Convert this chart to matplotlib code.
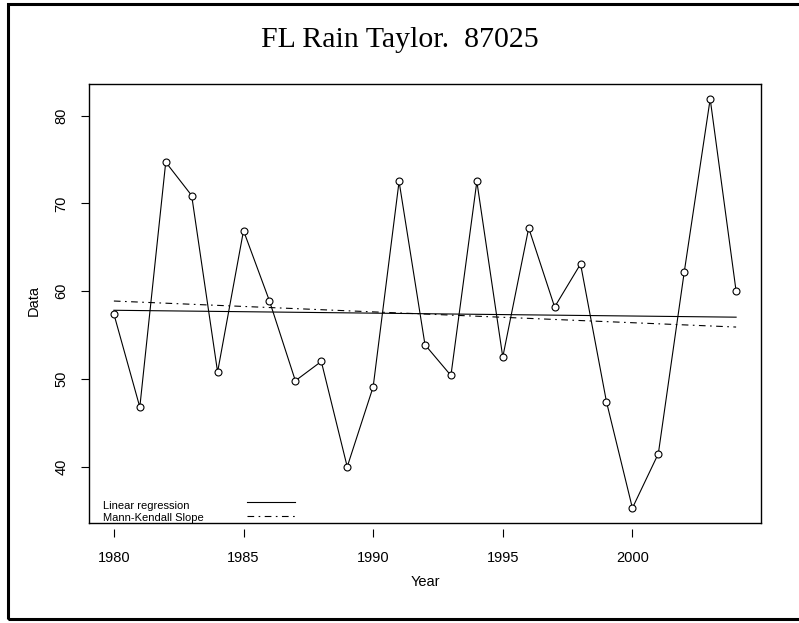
import numpy as np
import matplotlib
matplotlib.use("Agg")
import matplotlib.pyplot as plt
from matplotlib.patches import Rectangle
from matplotlib.lines import Line2D

# ---- data ----
years = list(range(1980, 2005))
values = [57.4, 46.8, 74.7, 70.9, 50.8, 66.9, 58.9, 49.8, 52.0, 40.0,
          49.1, 72.5, 53.9, 50.4, 72.5, 52.5, 67.2, 58.2, 63.1, 47.4,
          35.3, 41.5, 62.2, 81.9, 60.0]
x_ticks = [1980, 1985, 1990, 1995, 2000]
y_ticks = [40, 50, 60, 70, 80]
title = "FL Rain Taylor.  87025"
legend_labels = ["Linear regression", "Mann-Kendall Slope"]

x = np.array(years, dtype=float)
y = np.array(values, dtype=float)

# linear regression
b1, b0 = np.polyfit(x, y, 1)
lr = b0 + b1 * x

# Sen (Mann-Kendall) slope
slopes = []
for i in range(len(x)):
    for j in range(i + 1, len(x)):
        slopes.append((y[j] - y[i]) / (x[j] - x[i]))
sen = np.median(slopes)
sen_int = np.median(y) - sen * np.median(x)
mk = sen_int + sen * x

W, H = 799, 623
fig = plt.figure(figsize=(W / 100, H / 100), dpi=100)
plt.rcParams['font.family'] = ['Liberation Sans', 'DejaVu Sans']

L, R, T, B = 89, 761, 84, 523
ax = fig.add_axes([L / W, 1 - B / H, (R - L) / W, (B - T) / H])

lw = 0.8
ax.plot(x, y, color='black', lw=lw, marker='o', ms=5, mfc='white',
        mec='black', mew=0.8, zorder=3)
ax.plot(x, lr, color='black', lw=lw, zorder=2)
dd = (0, (6, 4, 1.5, 4))
ax.plot(x, mk, color='black', lw=lw, ls=dd, zorder=2)

ax.set_xlim(1979.04, 2004.96)
ax.set_ylim(33.6, 83.6)
ax.set_xticks(x_ticks)
ax.set_yticks(y_ticks)
ax.set_xticklabels([str(v) for v in x_ticks])
ax.set_yticklabels([str(v) for v in y_ticks], rotation=90, va='center')

for s in ax.spines.values():
    s.set_linewidth(1.0)
ax.spines['bottom'].set_position(('outward', 4))
ax.spines['bottom'].set_color('none')
ax.add_line(Line2D([0, 1], [0, 0], transform=ax.transAxes, color='black',
                   lw=1.0, clip_on=False))

ax.tick_params(axis='x', direction='out', length=6, width=0.8, pad=10,
               labelsize=10.5)
ax.tick_params(axis='y', direction='out', length=6, width=0.8, pad=9,
               labelsize=10.5)

# legend (manual, S-PLUS style)
ax.text(0.021, 0.038, legend_labels[0], transform=ax.transAxes,
        fontsize=8, va='center', ha='left')
ax.text(0.021, 0.011, legend_labels[1], transform=ax.transAxes,
        fontsize=8, va='center', ha='left')
ax.add_line(Line2D([0.235, 0.3065], [0.048, 0.048], transform=ax.transAxes,
                   color='black', lw=lw))
ax.add_line(Line2D([0.235, 0.3065], [0.016, 0.016], transform=ax.transAxes,
                   color='black', lw=lw, ls=dd))

# axis labels
fig.text(34 / W, 1 - 300 / H, "Data", rotation=90, ha='center', va='center',
         fontsize=10.5)
fig.text(425 / W, 1 - 582 / H, "Year", ha='center', va='center',
         fontsize=10.5)

# title
fig.text(400 / W, 1 - 40 / H, title, ha='center', va='center',
         fontsize=21.5, family=['Liberation Serif', 'DejaVu Serif'])

# outer frame
fig.add_artist(Rectangle((7.5 / W, 1 - 618.5 / H), 800 / W, (618.5 - 3.5) / H,
                         transform=fig.transFigure, fill=False,
                         edgecolor='black', lw=2.2, clip_on=False))

fig.savefig("out.png", dpi=100)
